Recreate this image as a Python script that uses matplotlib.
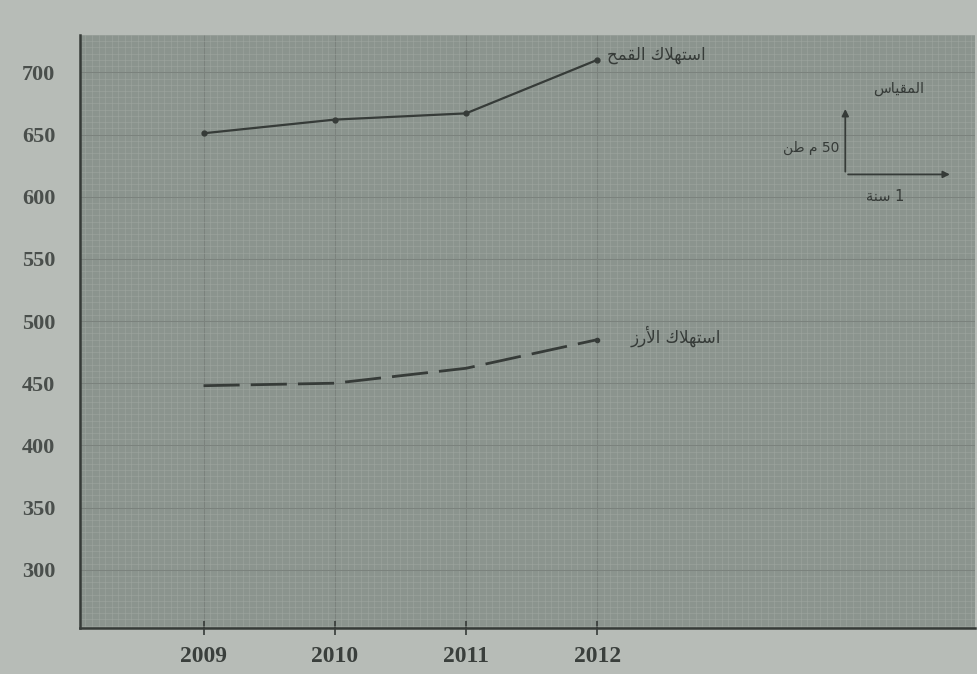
import numpy as np
import matplotlib.pyplot as plt
from matplotlib.ticker import MultipleLocator

# Data
years = [2009, 2010, 2011, 2012]
wheat = [651, 662, 667, 710]
rice = [448, 450, 462, 485]
y_ticks = [300, 350, 400, 450, 500, 550, 600, 650, 700]


def ar(forms):
    # Arabic already in presentation forms, logical order -> visual order
    return forms[::-1]


wheat_label = ar("\uFE8D\uFEB3\uFE98\uFEEC\uFEFC\uFED9 \uFE8D\uFEDF\uFED8\uFEE4\uFEA2")
rice_label = ar("\uFE8D\uFEB3\uFE98\uFEEC\uFEFC\uFED9 \uFE8D\uFEF7\uFEAD\uFEAF")
scale_title = ar("\uFE8D\uFEDF\uFEE4\uFED8\uFEF4\uFE8E\uFEB1")
scale_v = "\uFEE6\uFEC3 \uFEE1 50"
scale_h = "\uFE94\uFEE8\uFEB3 1"

paper = "#8b948e"
ink = "#363b38"

fig = plt.figure(figsize=(9.78, 6.74), dpi=100, facecolor="#b7bcb7")
ax = fig.add_axes([0.082, 0.068, 0.915, 0.88])
ax.set_facecolor(paper)

ax.set_xlim(2008.06, 2014.88)
ax.set_ylim(253, 730)

# graph paper grid
ax.xaxis.set_minor_locator(MultipleLocator(0.05))
ax.yaxis.set_minor_locator(MultipleLocator(5))
ax.xaxis.set_major_locator(MultipleLocator(1))
ax.grid(which="minor", color="#a3aaa5", linewidth=0.5, alpha=0.6)
ax.grid(which="major", color="#7b827d", linewidth=0.7)
ax.set_axisbelow(True)

ax.plot(years, wheat, color=ink, linewidth=1.6, marker="o", markersize=3.5)
ax.plot(years, rice, color=ink, linewidth=2.0, linestyle=(0, (13, 4)))
ax.plot(years[-1], rice[-1], marker="o", markersize=3, color=ink)

ax.text(years[-1] + 0.45, wheat[-1] + 4, wheat_label, family="DejaVu Sans",
        fontsize=12, color=ink, ha="center", va="center")
ax.text(years[-1] + 0.6, rice[-1] + 3, rice_label, family="DejaVu Sans",
        fontsize=12, color=ink, ha="center", va="center")

# scale indicator
ax.annotate("", xy=(0.855, 0.88), xytext=(0.855, 0.765), xycoords="axes fraction",
            arrowprops=dict(arrowstyle="-|>", color=ink, lw=1.3))
ax.annotate("", xy=(0.975, 0.765), xytext=(0.855, 0.765), xycoords="axes fraction",
            arrowprops=dict(arrowstyle="-|>", color=ink, lw=1.3))
ax.text(0.915, 0.91, scale_title, transform=ax.transAxes, family="DejaVu Sans",
        fontsize=10.5, color=ink, ha="center", va="center")
ax.text(0.848, 0.81, scale_v, transform=ax.transAxes, family="DejaVu Sans",
        fontsize=10, color=ink, ha="right", va="center")
ax.text(0.9, 0.727, scale_h, transform=ax.transAxes, family="DejaVu Sans",
        fontsize=10.5, color=ink, ha="center", va="center")

ax.set_xticks(years)
ax.set_xticklabels([str(y) for y in years], family="Liberation Serif",
                   fontweight="bold", fontsize=17, color="#3a3f3c")
ax.set_yticks(y_ticks)
ax.set_yticklabels([str(v) for v in y_ticks], family="Liberation Serif",
                   fontweight="bold", fontsize=16, color="#4a4f4c")
ax.tick_params(axis="x", which="major", direction="inout", length=10, width=1.2,
               color=ink, pad=8)
ax.tick_params(axis="y", which="major", length=0, pad=18)
ax.tick_params(which="minor", length=0)

for side in ["top", "right"]:
    ax.spines[side].set_visible(False)
ax.spines["left"].set_color(ink)
ax.spines["left"].set_linewidth(1.8)
ax.spines["bottom"].set_color(ink)
ax.spines["bottom"].set_linewidth(1.8)

plt.savefig("out.png", dpi=100, facecolor=fig.get_facecolor())
